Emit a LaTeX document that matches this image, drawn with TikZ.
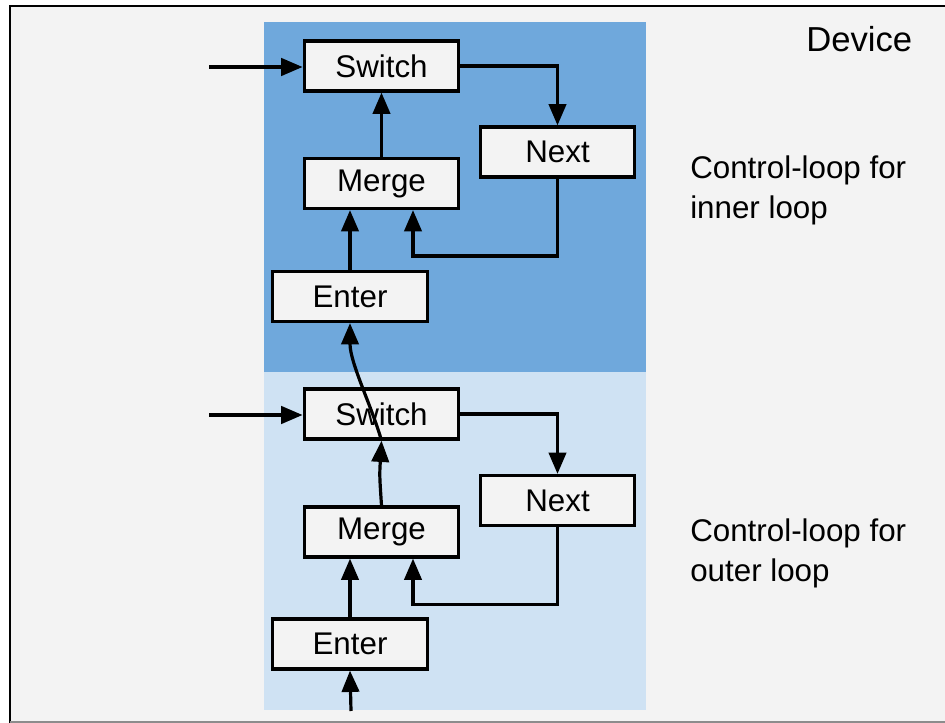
\documentclass[tikz,border=0pt]{standalone}
\usepackage{fontspec}
\setmainfont{Liberation Sans}
\usetikzlibrary{arrows.meta,calc}

\definecolor{pagegray}{HTML}{F3F3F3}
\definecolor{innerblue}{HTML}{6FA8DC}
\definecolor{outerblue}{HTML}{CFE2F3}
\definecolor{boxfill}{HTML}{F3F3F3}

\tikzset{
  opbox/.style={draw=black, line width=2.4pt, fill=boxfill, minimum width=116pt,
    minimum height=37.5pt, inner sep=0pt, font=\fontsize{23.5}{28}\selectfont},
  flow/.style={line width=2.4pt, -{Triangle[length=16pt,width=13pt]}},
  caption/.style={anchor=north west, inner sep=0pt, align=left,
    font=\fontsize{23.5}{29.5}\selectfont},
}

\begin{document}
\begin{tikzpicture}[x=0.75pt, y=-0.75pt]
  \useasboundingbox (0,0) rectangle (945,723);

  % device frame
  \fill[pagegray] (10,6) rectangle (945,723);
  \draw[line width=2.2pt, line cap=rect] (10,723) -- (10,6) -- (945,6);
  \draw[black!45, line width=1.2pt] (10,722) -- (945,722);

  % the two control-loop regions
  \fill[innerblue] (264,22) rectangle (646,372);
  \fill[outerblue] (264,372) rectangle (646,710);

  \node[anchor=base west, inner sep=0pt, font=\fontsize{26}{30}\selectfont]
    (dev) at (806,52) {Device};
  \node[caption] (capin) at (690,156) {Control-loop for\\inner loop};
  \node[caption] (capout) at (690,519) {Control-loop for\\outer loop};

  % inner loop operations
  \node[opbox] (swA) at (381.5,66)  {Switch};
  \node[opbox] (mgA) at (381.5,183.5) {Merge};
  \node[opbox] (nxA) at (557.5,152) {Next};
  \node[opbox] (enA) at (350,296.5) {Enter};

  % outer loop operations
  \node[opbox] (swB) at (381.5,414) {Switch};
  \node[opbox] (mgB) at (381.5,532) {Merge};
  \node[opbox] (nxB) at (557.5,500.5) {Next};
  \node[opbox] (enB) at (350,644) {Enter};

  \coordinate (inA) at (209,67);
  \coordinate (inB) at (209,415);
  \coordinate (inC) at (351,711);

  % inner loop edges
  \draw[flow] (inA) -- (inA -| swA.west);
  \draw[flow] (swA.east) -| (nxA.north);
  \draw[flow] (nxA.south) |- ($(mgA.south)+(31.5,46)$) -- ($(mgA.south)+(31.5,0)$);
  \draw[flow] (enA.north) -- (enA.north |- mgA.south);
  \draw[flow] (mgA.north) -- (swA.south);

  % outer loop edges
  \draw[flow] (inB) -- (inB -| swB.west);
  \draw[flow] (swB.east) -| (nxB.north);
  \draw[flow] (nxB.south) |- ($(mgB.south)+(31.5,46)$) -- ($(mgB.south)+(31.5,0)$);
  \draw[flow] (enB.north) -- (enB.north |- mgB.south);
  \draw[flow] (mgB.north) .. controls ($(mgB.north)+(-2,-30)$) .. (swB.south);
  \draw[flow] (inC) -- (enB.south);

  % outer Switch feeding the inner Enter
  \draw[flow] (swB.south) .. controls ($(swB.south)+(-10,-35)$) and ($(enA.south)+(0,40)$) .. (enA.south);
\end{tikzpicture}
\end{document}
